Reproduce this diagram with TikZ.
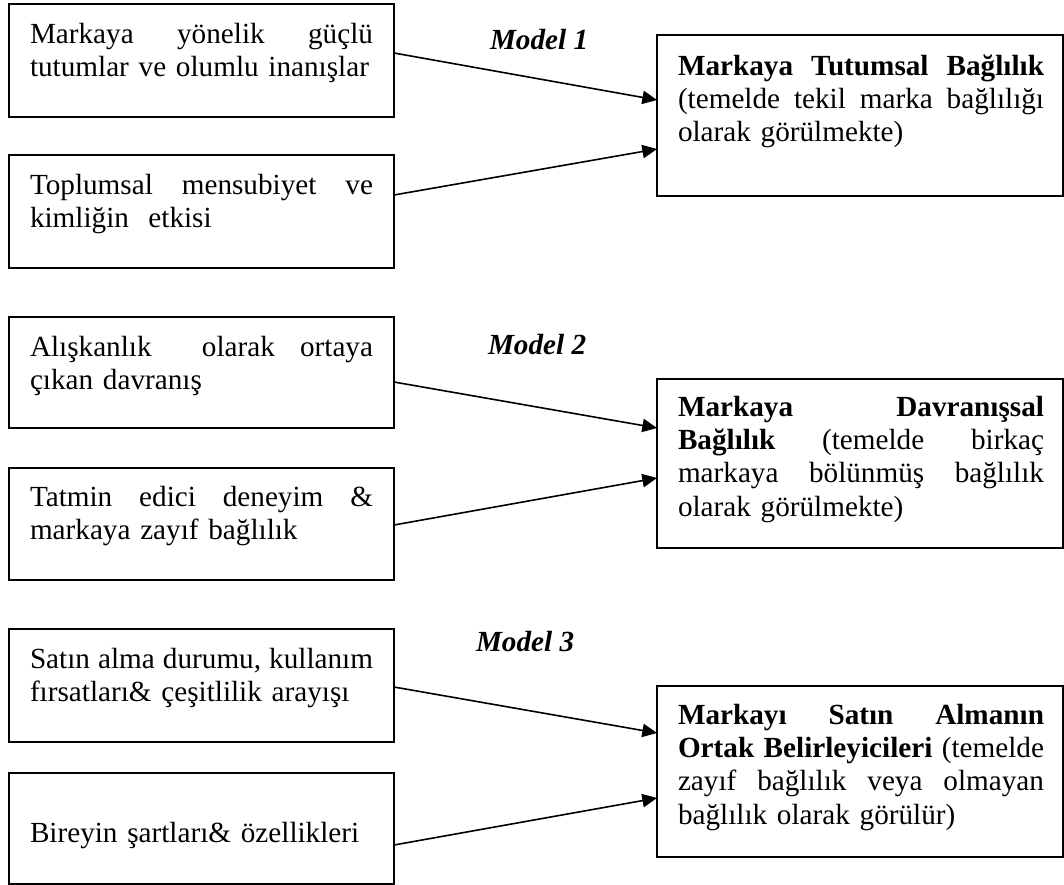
\documentclass[tikz,border=0pt]{standalone}
\usepackage{fontspec}
\setmainfont{Liberation Serif}
\usetikzlibrary{arrows.meta,calc}
\begin{document}
\begin{tikzpicture}[x=0.75pt,y=-0.75pt,
  every node/.style={inner sep=0pt,outer sep=0pt},
  font=\fontsize{21.9pt}{25pt}\selectfont,
  frame/.style={draw,line width=1.1pt,anchor=north west},
  lbox/.style={frame,minimum width=288.75pt},
  rbox/.style={frame,minimum width=304.5pt},
  ltxt/.style={anchor=base west,text width=257.25pt,align=left},
  rtxt/.style={anchor=base west,text width=274.5pt,align=left},
  model/.style={anchor=base west,font=\fontsize{21.9pt}{25pt}\selectfont\bfseries\itshape},
  link/.style={line width=1.2pt,-{Triangle[length=11pt,width=10pt]}}]
\path[fill=white,use as bounding box] (0,0) rectangle (1064,885);

% left-hand boxes
\node[lbox,minimum height=84.75pt] (L1) at (9,4) {};
\node[lbox,minimum height=84.75pt] (L2) at (9,155) {};
\node[lbox,minimum height=83.25pt] (L3) at (9,317) {};
\node[lbox,minimum height=84pt]    (L4) at (9,468) {};
\node[lbox,minimum height=84.75pt] (L5) at (9,629) {};
\node[lbox,minimum height=83.25pt] (L6) at (9,773) {};

% right-hand boxes
\node[rbox,minimum height=120.75pt] (R1) at (657,35) {};
\node[rbox,minimum height=126.75pt] (R2) at (657,379) {};
\node[rbox,minimum height=128.25pt] (R3) at (657,686) {};

% box texts
\node[ltxt] (L1t) at ($(L1.north west)+(21,39)$)
  {Markaya\hfill yönelik\hfill güçlü\\ tutumlar ve olumlu inanışlar};
\node[ltxt] (L2t) at ($(L2.north west)+(21,39)$)
  {Toplumsal\hfill mensubiyet\hfill ve\\ kimliğin\ \ etkisi};
\node[ltxt] (L3t) at ($(L3.north west)+(21,39)$)
  {Alışkanlık\hfill\hfill olarak\hfill ortaya\\ çıkan davranış};
\node[ltxt] (L4t) at ($(L4.north west)+(21,38)$)
  {Tatmin\hfill edici\hfill deneyim\hfill \&\\ markaya zayıf bağlılık};
\node[ltxt] (L5t) at ($(L5.north west)+(21,39)$)
  {Satın\hfill alma\hfill durumu,\hfill kullanım\\ fırsatları\& çeşitlilik arayışı};
\node[ltxt] (L6t) at ($(L6.north west)+(21,69)$)
  {Bireyin şartları\& özellikleri};

\node[rtxt] (R1t) at ($(R1.north west)+(21,40)$)
  {\textbf{Markaya\hfill Tutumsal\hfill Bağlılık}\\
   (temelde\hfill tekil\hfill marka\hfill bağlılığı\\
   olarak görülmekte)};
\node[rtxt] (R2t) at ($(R2.north west)+(21,37)$)
  {\textbf{Markaya\hfill Davranışsal}\\
   \textbf{Bağlılık}\hfill (temelde\hfill birkaç\\
   markaya\hfill bölünmüş\hfill bağlılık\\
   olarak görülmekte)};
\node[rtxt] (R3t) at ($(R3.north west)+(21,38)$)
  {\textbf{Markayı\hfill Satın\hfill Almanın}\\
   \textbf{Ortak\hfill Belirleyicileri}\hfill (temelde\\
   zayıf\hfill bağlılık\hfill veya\hfill olmayan\\
   bağlılık olarak görülür)};

% model labels
\node[model] (M1) at (490,49) {Model 1};
\node[model] (M2) at (488,354) {Model 2};
\node[model] (M3) at (476,651) {Model 3};

% connectors
\draw[link] ($(L1.east)+(0,-7.5)$)  -- ($(R1.west)+(0,-15.5)$);
\draw[link] ($(L2.east)+(0,-16.5)$) -- ($(R1.west)+(0,33.5)$);
\draw[link] ($(L3.east)+(0,9.5)$)   -- ($(R2.west)+(0,-35.5)$);
\draw[link] ($(L4.east)+(0,1)$)     -- ($(R2.west)+(0,14.5)$);
\draw[link] ($(L5.east)+(0,1.5)$)   -- ($(R3.west)+(0,-38.5)$);
\draw[link] ($(L6.east)+(0,16.5)$)  -- ($(R3.west)+(0,26.5)$);
\end{tikzpicture}
\end{document}
